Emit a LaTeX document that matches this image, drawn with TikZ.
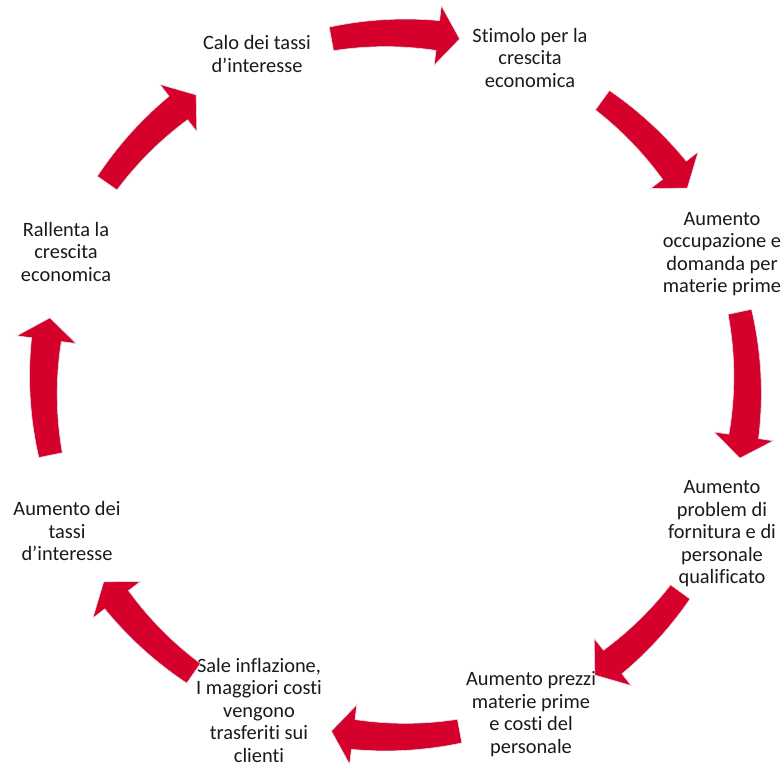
\documentclass[tikz,border=0pt]{standalone}
\usepackage{fontspec}
\setmainfont{Carlito}[Ligatures=NoCommon]
\usepackage{tikz}
\usetikzlibrary{positioning}
\definecolor{cycred}{RGB}{213,0,44}
\definecolor{cyctext}{RGB}{26,26,26}
% curved block arrow on the cycle, from angle #1 to angle #2 (clockwise)
\newcommand{\cycarrow}[2]{%
  \pgfmathsetmacro{\cychead}{#2+3.6}%
  \filldraw[arr]
    plot[domain=#1:\cychead, samples=24] (\x:{364+3*(#1-\x)/(#1-\cychead)})
    -- (\cychead:382) -- (#2:352) -- (\cychead:322)
    -- plot[domain=\cychead:#1, samples=24] (\x:{340-3*(#1-\x)/(#1-\cychead)})
    -- cycle;}

\begin{document}
\begin{tikzpicture}[
      x=1pt, y=1pt,
      stage/.style={align=center, inner sep=0pt, text=cyctext,
        font=\fontsize{20.4}{22.5}\selectfont},
      arr/.style={fill=cycred, draw=black!12, line width=0.6pt, line join=miter},
    ]
    \fill[white] (0,0) rectangle (784,767);
    \useasboundingbox (0,0) rectangle (784,767);
    \coordinate (hub) at (395.5,382);
    \node[stage] (calo) at (257,713) {Calo dei tassi\\d’interesse};
    \node[stage] (stimolo) at (530,709) {Stimolo per la\\crescita\\economica};
    \node[stage] (occup) at (722,513) {Aumento\\occupazione e\\domanda per\\materie prime};
    \node[stage] (fornit) at (722,233) {Aumento\\problem di\\fornitura e di\\personale\\qualificato};
    \node[stage] (prezzi) at (531,53) {Aumento prezzi\\materie prime\\e costi del\\personale};
    \node[stage] (inflaz) at (259,57) {Sale inflazione,\\I maggiori costi\\vengono\\trasferiti sui\\clienti};
    \node[stage] (tassi) at (67,236) {Aumento dei\\tassi\\d’interesse};
    \node[stage] (rallenta) at (66,515) {Rallenta la\\crescita\\economica};
    \begin{scope}[shift={(hub)}]
      \cycarrow{100.5}{79.5}
      \cycarrow{54}{34}
      \cycarrow{12}{-12}
      \cycarrow{-36}{-55.5}
      \cycarrow{-79.5}{-100.5}
      \cycarrow{-125}{-146}
      \cycarrow{191.5}{169}
      \cycarrow{145}{124.5}
    \end{scope}
\end{tikzpicture}
\end{document}
